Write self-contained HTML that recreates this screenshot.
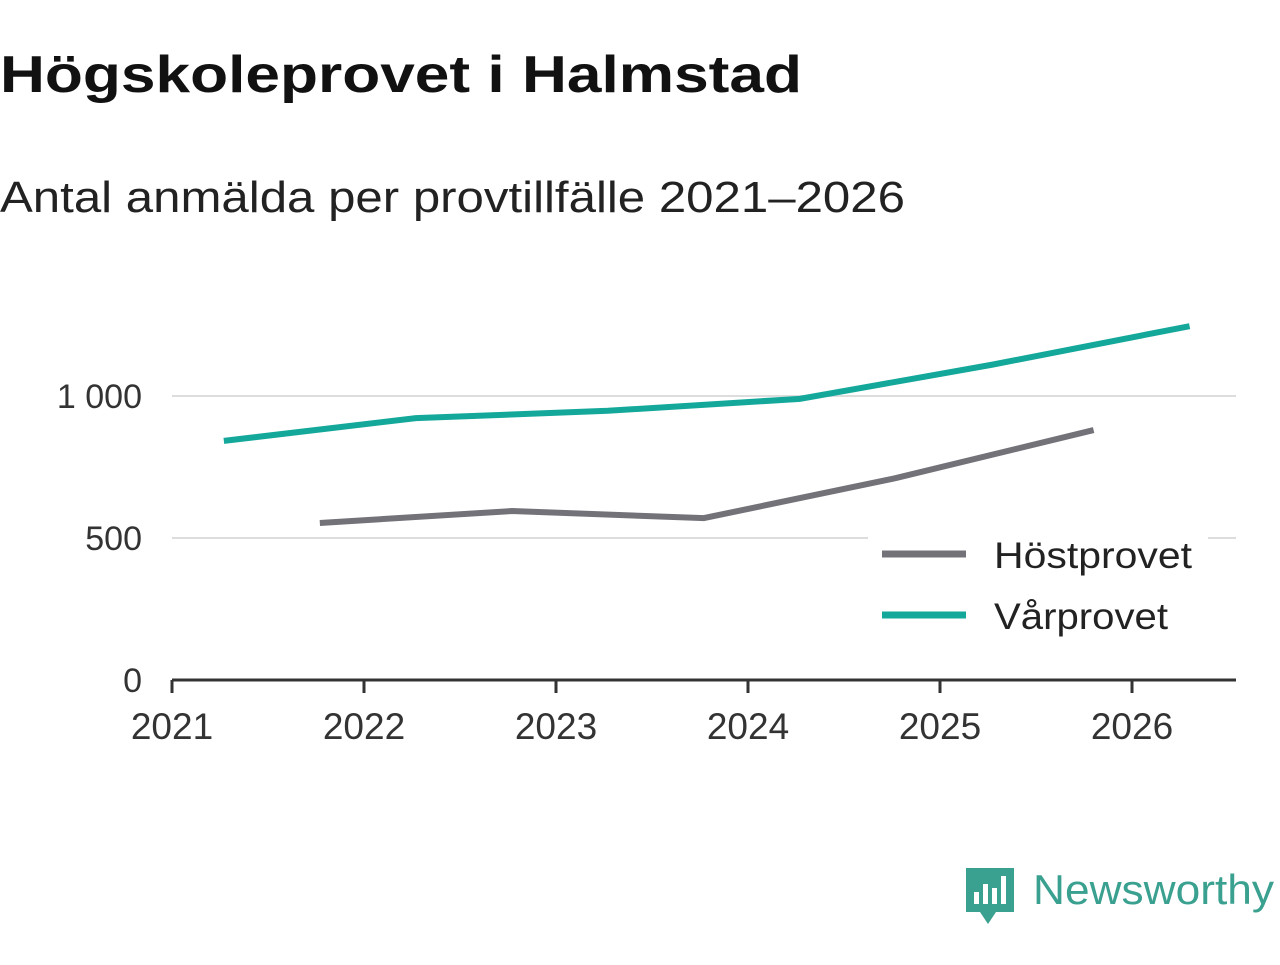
<!DOCTYPE html>
<html><head><meta charset="utf-8"><style>
body{margin:0;width:1280px;height:960px;background:#fff;overflow:hidden;font-family:"Liberation Sans",sans-serif}
</style></head><body>
<svg width="1280" height="960">
<text x="0" y="92" font-size="52" font-weight="bold" fill="#111" textLength="802" lengthAdjust="spacingAndGlyphs">Högskoleprovet i Halmstad</text>
<text x="0" y="212" font-size="44" fill="#222" textLength="905" lengthAdjust="spacingAndGlyphs">Antal anmälda per provtillfälle 2021–2026</text>
<g id="grid"></g><g id="lines"></g><g id="axis"></g>
<g>
<rect x="868" y="530" width="340" height="120" fill="#fff"/>
<line x1="882" y1="554" x2="966" y2="554" stroke="#737279" stroke-width="7"/>
<text x="994" y="568" font-size="37" fill="#222" textLength="198" lengthAdjust="spacingAndGlyphs">Höstprovet</text>
<line x1="882" y1="615" x2="966" y2="615" stroke="#13a89a" stroke-width="7"/>
<text x="994" y="629" font-size="37" fill="#222" textLength="174" lengthAdjust="spacingAndGlyphs">Vårprovet</text>
</g>
<g>
<path d="M966 868 h48 v44 h-18 l-8 12 l-8 -12 h-14 z" fill="#3aa08f"/>
<rect x="974" y="892" width="5" height="12" fill="#fff"/><rect x="983" y="884" width="5" height="20" fill="#fff"/><rect x="992" y="888" width="5" height="16" fill="#fff"/><rect x="1001" y="876" width="5" height="28" fill="#fff"/>
<text x="1033" y="904" font-size="42" fill="#3aa08f" textLength="241" lengthAdjust="spacingAndGlyphs">Newsworthy</text>
</g>
</svg>
<script>
const years=[2021,2022,2023,2024,2025,2026];
const yTicks=[0,500,1000];
const yTickLabels=["0","500","1 000"];
const varX=[2021.27,2022.27,2023.27,2024.27,2025.27,2026.3];
const varY=[842,922,948,990,1110,1246];
const hostX=[2021.77,2022.77,2023.77,2024.77,2025.8];
const hostY=[553,595,570,711,880];
const NS="http://www.w3.org/2000/svg";
const xs=v=>172+(v-2021)*192;
const ys=v=>680-v*0.284;
function mk(t,a,p){const e=document.createElementNS(NS,t);for(const k in a)e.setAttribute(k,a[k]);p.appendChild(e);return e;}
const grid=document.getElementById('grid'),axis=document.getElementById('axis'),lines=document.getElementById('lines');
yTicks.forEach((v,i)=>{
 if(v>0){const g=mk('line',{x1:172,x2:1236,y1:ys(v),y2:ys(v),stroke:'#ddd','stroke-width':2},grid);
 
 }
 const t=mk('text',{x:142,y:ys(v)+12,'font-size':34,fill:'#333','text-anchor':'end'},axis);t.textContent=yTickLabels[i];
 
 
});
const ax=mk('line',{x1:172,x2:1236,y1:680,y2:680,stroke:'#333','stroke-width':3},axis);


years.forEach(y=>{
 const tk=mk('line',{x1:xs(y),x2:xs(y),y1:680,y2:693,stroke:'#333','stroke-width':3},axis);
 
 
 const t=mk('text',{x:xs(y),y:739,'font-size':37,fill:'#333','text-anchor':'middle'},axis);t.textContent=y;
 
 
});
function line(X,Y,c,name){
 const p=mk('polyline',{points:X.map((x,i)=>xs(x)+','+ys(Y[i])).join(' '),fill:'none',stroke:c,'stroke-width':6},lines);
 
 
}
line(hostX,hostY,'#737279','line-hostprovet');
line(varX,varY,'#13a89a','line-varprovet');
</script>
</body></html>
